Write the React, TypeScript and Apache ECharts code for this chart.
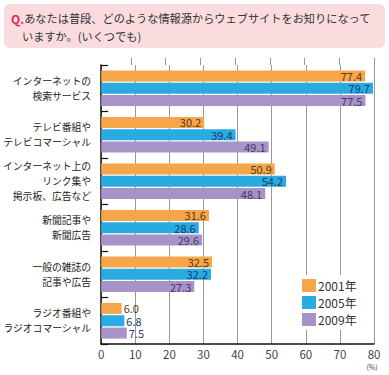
import React, { useEffect, useRef } from "react";
import * as echarts from "echarts";

const categories = [
  "インターネットの\n検索サービス",
  "テレビ番組や\nテレビコマーシャル",
  "インターネット上の\nリンク集や\n掲示板、広告など",
  "新聞記事や\n新聞広告",
  "一般の雑誌の\n記事や広告",
  "ラジオ番組や\nラジオコマーシャル",
];
const seriesNames = ["2001年", "2005年", "2009年"];
const values2001 = [77.4, 30.2, 50.9, 31.6, 32.5, 6.0];
const values2005 = [79.7, 39.4, 54.2, 28.6, 32.2, 6.8];
const values2009 = [77.5, 49.1, 48.1, 29.6, 27.3, 7.5];
const xTicks = { min: 0, max: 80, interval: 10 };

const FONT = "'Noto Sans CJK JP', 'Noto Sans', sans-serif";
const barColors = ["#F5A54A", "#29ABE2", "#A893C9"];
const labelColors = ["#5a3a12", "#173c6a", "#45356a"];

export default function App() {
  const ref = useRef<HTMLDivElement>(null);
  useEffect(() => {
    if (!ref.current) return;
    const chart = echarts.init(ref.current, undefined, { renderer: "svg" });
    const all = [values2001, values2005, values2009];
    const series = all.map((vals, i) => ({
      name: seriesNames[i],
      type: "bar",
      xAxisIndex: 0,
      yAxisIndex: 0,
      barWidth: 11,
      barGap: "12%",
      itemStyle: { color: barColors[i] },
      data: vals.map((v) => ({
        value: v,
        label: {
          show: true,
          position: v < 10 ? "right" : "insideRight",
          distance: v < 10 ? 2 : 3,
          formatter: (p: any) => Number(p.value).toFixed(1),
          color: labelColors[i],
          fontSize: 11,
          lineHeight: 11,
          fontFamily: FONT,
        },
      })),
    }));
    const gridColors = ["rgba(0,0,0,0)", "#999", "#999", "#999", "#999", "#999", "#999", "#999", "#999"];
    chart.setOption({
      animation: false,
      backgroundColor: "#ffffff",
      textStyle: { fontFamily: FONT },
      grid: [
        { left: 96, right: 15, top: 65, bottom: 31, containLabel: false },
        { left: 96, right: 15, top: 58, height: 7, containLabel: false },
      ],
      xAxis: [
        {
          type: "value",
          gridIndex: 0,
          min: xTicks.min,
          max: xTicks.max,
          interval: xTicks.interval,
          axisLine: { show: true, lineStyle: { color: "#111", width: 1.5 } },
          axisTick: { show: false },
          axisLabel: { color: "#444", fontSize: 11.5, margin: 4, fontFamily: FONT },
          splitLine: { show: true, lineStyle: { color: "#999", width: 1 } },
        },
        {
          type: "value",
          gridIndex: 1,
          min: xTicks.min,
          max: xTicks.max,
          interval: xTicks.interval,
          axisLine: { show: false },
          axisTick: { show: false },
          axisLabel: { show: false },
          splitLine: { show: true, lineStyle: { color: gridColors, width: 1 } },
        },
      ],
      yAxis: [
        {
          type: "category",
          gridIndex: 0,
          inverse: true,
          data: categories,
          axisLine: { show: true, lineStyle: { color: "#111", width: 1.5 } },
          axisTick: { show: true, inside: true, length: 7, lineStyle: { color: "#111", width: 1.2 } },
          axisLabel: {
            color: "#222",
            fontSize: 9.8,
            lineHeight: 15,
            margin: 10,
            align: "right",
            fontFamily: FONT,
          },
          splitLine: { show: false },
        },
        {
          type: "category",
          gridIndex: 1,
          data: [""],
          show: false,
        },
      ],
      legend: {
        orient: "vertical",
        left: 298,
        top: 275,
        backgroundColor: "#ffffff",
        padding: [4, 4, 4, 4],
        itemWidth: 14,
        itemHeight: 13,
        itemGap: 4,
        icon: "rect",
        textStyle: { color: "#333", fontSize: 12, fontFamily: FONT, padding: [0, 0, 0, -3] },
        data: seriesNames,
      },
      graphic: [
        {
          type: "rect",
          shape: { x: 4, y: 4, width: 381, height: 44, r: 6 },
          style: { fill: "#FADCDF" },
          silent: true,
        },
        {
          type: "text",
          x: 11,
          y: 18,
          style: {
            text: "{q|Q.}{t|あなたは普段、どのような情報源からウェブサイトをお知りになって}",
            verticalAlign: "middle",
            rich: {
              q: { fontSize: 12, fontWeight: "bold", fill: "#E0245E", fontFamily: FONT },
              t: { fontSize: 11.2, fill: "#333", fontFamily: FONT },
            },
          },
        },
        {
          type: "text",
          x: 22,
          y: 36,
          style: {
            text: "いますか。(いくつでも)",
            fontSize: 11.2,
            fill: "#333",
            fontFamily: FONT,
            verticalAlign: "middle",
          },
        },
        {
          type: "text",
          x: 372,
          y: 367,
          style: {
            text: "(%)",
            fontSize: 7,
            fill: "#444",
            fontFamily: FONT,
            align: "center",
            verticalAlign: "middle",
          },
        },
      ],
      series,
    });
    return () => chart.dispose();
  }, []);
  return <div ref={ref} style={{ width: 389, height: 375, position: "absolute", left: 0, top: 0 }} />;
}
